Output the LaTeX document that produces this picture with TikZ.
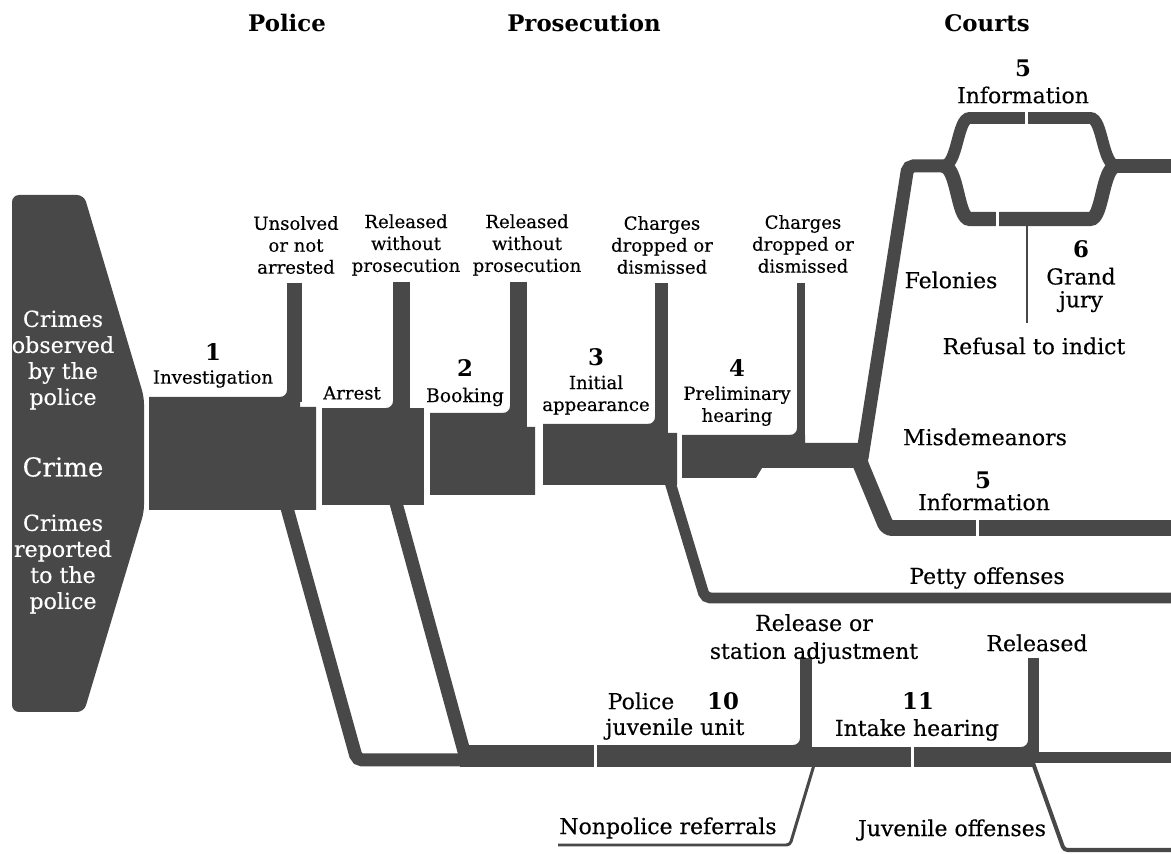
\documentclass[tikz,border=0pt]{standalone}
\usepackage{fontspec}
\setmainfont{DejaVu Serif}[UprightFeatures={FakeBold=0.35}]
\definecolor{flowgray}{RGB}{72,72,72}
% concave corner where a side bar meets a block top
\newcommand{\lfillet}[2]{\fill[flowgray] (#1,#2-7) .. controls (#1,#2-3) and (#1-3,#2) .. (#1-7,#2) -- (#1,#2) -- cycle;}

\begin{document}
\begin{tikzpicture}[x=0.02cm, y=-0.02cm,
    flow/.style={fill=flowgray, draw=none},
    pipe/.style={draw=flowgray, line width=#1, rounded corners=3pt, line cap=butt},
    thin/.style={draw=flowgray, line width=#1, rounded corners=2pt},
    cut/.style={draw=white, line width=1.8pt},
    head/.style={font=\fontsize{13}{15}\selectfont\bfseries, inner sep=0pt},
    num/.style={font=\fontsize{13}{15}\selectfont\bfseries, inner sep=0pt},
    lbl/.style={font=\fontsize{10.3}{12.5}\selectfont, align=center, inner sep=0pt},
    big/.style={font=\fontsize{12.5}{15.9}\selectfont, align=center, inner sep=0pt},
    wlbl/.style={font=\fontsize{12.6}{14.8}\selectfont, align=center, text=white, inner sep=0pt}]
    \useasboundingbox (0,0) rectangle (1171,854);

    % Column headings
    \node[head] (hpol) at (287,23) {Police};
    \node[head] (hpro) at (584,23) {Prosecution};
    \node[head] (hcou) at (987,23) {Courts};

    % Crime
    \fill[flow, rounded corners=4pt] (12,195) -- (84,195) -- (144,397) -- (144,512) -- (84,712) -- (12,712) -- cycle;
    \node[wlbl] (obs) at (63,360) {Crimes\\observed\\by the\\police};
    \node[wlbl, font=\fontsize{14.8}{16}\selectfont] (crime) at (63,467) {Crime};
    \node[wlbl] (rep) at (63,564) {Crimes\\reported\\to the\\police};

    % Police and prosecution stages
    \fill[flow] (149,397) -- (300,397) -- (300,407) -- (316,407) -- (316,510) -- (149,510) -- cycle;
    \draw[pipe=8.5pt] (294.5,283) -- (294.5,402);
    \lfillet{287}{397}
    \fill[flow] (322,408) rectangle (424,505);
    \draw[pipe=9.6pt] (401.5,282) -- (401.5,411);
    \lfillet{393}{408}
    \fill[flow] (430,413) -- (512,413) -- (512,427) -- (535,427) -- (535,495) -- (430,495) -- cycle;
    \draw[pipe=9.6pt] (518.5,282) -- (518.5,430);
    \lfillet{510}{413}
    \fill[flow] (543,424) -- (655,424) -- (655,433) -- (677,433) -- (677,485) -- (543,485) -- cycle;
    \draw[pipe=7.4pt] (661.5,283) -- (661.5,436);
    \lfillet{655}{424}
    \fill[flow] (682,435) -- (805,435) -- (805,443) -- (868,443) -- (868,468) -- (762,468) -- (756,478) -- (682,478) -- cycle;
    \draw[pipe=4.5pt] (801,283) -- (801,440);
    \lfillet{797}{435}

    % Felonies: information or grand jury
    \draw[pipe=7.4pt] (862,458) -- (908,166) -- (950,166);
    \draw[pipe=6.8pt] (943,166) .. controls (958,166) and (957,118) .. (975,118) -- (1085,118) .. controls (1103,118) and (1102,166) .. (1117,166);
    \draw[pipe=8pt] (943,166) .. controls (958,166) and (957,219) .. (975,219) -- (1085,219) .. controls (1103,219) and (1102,166) .. (1117,166);
    \draw[pipe=8pt] (1108,166) -- (1171,166);
    \draw[cut] (1026.5,110) -- (1026.5,126);
    \draw[cut] (997.5,210) -- (997.5,229);
    \draw[thin=1.2pt] (1027,226) -- (1027,323);

    % Misdemeanors and petty offenses
    \draw[pipe=9.1pt] (858,458) -- (887,528) -- (1171,528);
    \draw[cut] (977.5,518) -- (977.5,539);
    \draw[pipe=6.2pt] (670,482) -- (705,598) -- (1171,598);

    % Juvenile route
    \draw[pipe=7.4pt] (287,508) -- (357,760) -- (470,760);
    \draw[pipe=7.4pt] (396,503) -- (465,755);
    \fill[flow] (460,745) rectangle (806,767);
    \fill[flow] (806,747) rectangle (1034,767);
    \fill[flow] (1034,752) rectangle (1171,763);
    \draw[pipe=6.8pt] (806,658) -- (806,750);
    \lfillet{800}{745}
    \draw[pipe=6.2pt] (1033.5,658) -- (1033.5,755);
    \lfillet{1028}{747}
    \draw[cut] (595.5,743) -- (595.5,769);
    \draw[cut] (912.5,745) -- (912.5,769);
    \draw[thin=1.7pt] (814,765) -- (790,845) -- (558,845);
    \draw[thin=2.3pt] (1033,763) -- (1064,850) -- (1171,850);

    % Stage labels
    \node[num] (n1) at (213,352) {1};
    \node[lbl] (inv) at (213,379) {Investigation};
    \node[lbl] (unsolved) at (296,245) {Unsolved\\or not\\arrested};
    \node[lbl] (arrest) at (352,393) {Arrest};
    \node[lbl] (relA) at (406,245) {Released\\without\\prosecution};
    \node[num] (n2) at (465,368) {2};
    \node[lbl, font=\fontsize{10.7}{12.5}\selectfont] (book) at (465,397) {Booking};
    \node[lbl] (relB) at (527,245) {Released\\without\\prosecution};
    \node[num] (n3) at (596,357) {3};
    \node[lbl] (init) at (596,395) {Initial\\appearance};
    \node[lbl] (chgA) at (662,245) {Charges\\dropped or\\dismissed};
    \node[num] (n4) at (737,368) {4};
    \node[lbl] (prel) at (737,406) {Preliminary\\hearing};
    \node[lbl] (chgB) at (803,244) {Charges\\dropped or\\dismissed};

    % Court labels
    \node[num] (n5a) at (1023,68) {5};
    \node[big] (infoA) at (1023,95) {Information};
    \node[big] (fel) at (951,280) {Felonies};
    \node[num] (n6) at (1081,249) {6};
    \node[big, font=\fontsize{12.5}{13}\selectfont] (gj) at (1081,290) {Grand\\jury};
    \node[big] (refusal) at (1034,346) {Refusal to indict};
    \node[big] (misd) at (985,437) {Misdemeanors};
    \node[num] (n5b) at (983,480) {5};
    \node[big] (infoB) at (984,502) {Information};
    \node[big] (petty) at (987,578) {Petty offenses};

    % Juvenile labels
    \node[big] (release) at (814,639) {Release or\\station adjustment};
    \node[big] (released) at (1037,643) {Released};
    \node[big] (pjuv) at (641,701) {Police};
    \node[num] (n10) at (723,701) {10};
    \node[big] (junit) at (675,729) {juvenile unit};
    \node[num] (n11) at (918,701) {11};
    \node[big] (intake) at (917,730) {Intake hearing};
    \node[big] (nonpol) at (668,828) {Nonpolice referrals};
    \node[big] (juvoff) at (952,830) {Juvenile offenses};
\end{tikzpicture}
\end{document}
